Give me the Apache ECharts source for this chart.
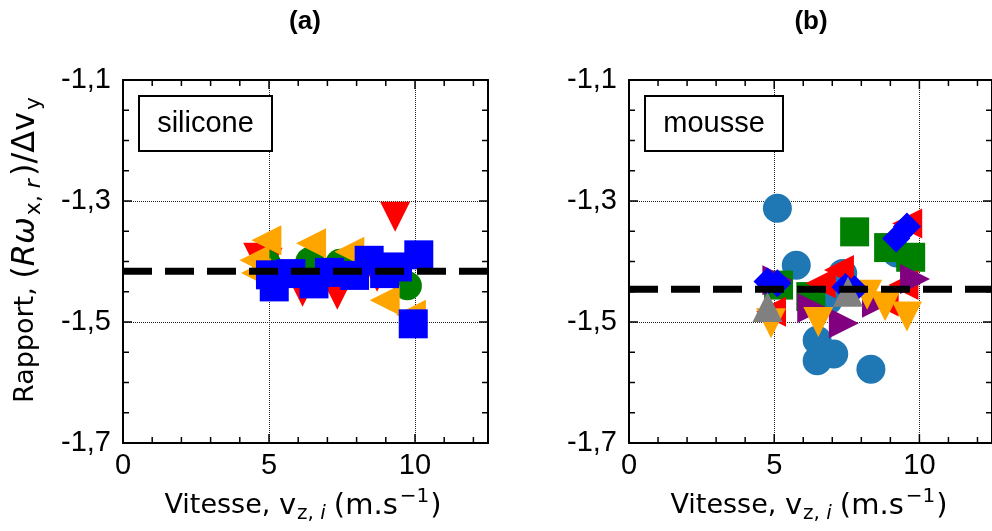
<!DOCTYPE html>
<html>
<head>
<meta charset="utf-8">
<script src="https://cdn.jsdelivr.net/npm/echarts@6/dist/echarts.min.js"></script>
<style>
  html, body { margin: 0; padding: 0; background: #fff; }
  #chart { width: 992px; height: 531px; }
</style>
</head>
<body>
<div id="chart"></div>
<script>
// axis ranges and tick labels
const xRange = [0, 12.5]
const yRange = [-1.7, -1.1]
const xTickStep = 5
const yTickStep = 0.2
const xTicks = [0, 1, 2, 3, 4, 5, 6, 7, 8, 9, 10, 11, 12]
const xMajor = [5, 10]
const yTicks = [-1.65, -1.6, -1.55, -1.5, -1.45, -1.4, -1.35, -1.3, -1.25, -1.2, -1.15]
const yMajor = [-1.5, -1.3]
const panelTitles = ['(a)', '(b)']
const panelNames = ['silicone', 'mousse']

// mean ratio (dashed line) per panel
const refA = -1.416
const refB = -1.446

// panel (a) silicone
const aRedX = [4.63, 4.95, 6.15, 7.34, 8.70, 9.32]
const aRedY = [-1.394, -1.402, -1.450, -1.455, -1.425, -1.326]
const aGreenX = [4.92, 6.40, 7.43, 9.74]
const aGreenY = [-1.404, -1.400, -1.403, -1.440]
const aOrangeX = [4.91, 6.44, 7.75, 4.50, 4.55, 8.96, 9.86]
const aOrangeY = [-1.365, -1.370, -1.384, -1.398, -1.419, -1.464, -1.488]
const aBlueX = [5.05, 5.18, 5.75, 6.54, 7.07, 7.93, 8.43, 8.96, 9.40, 10.13, 9.94]
const aBlueY = [-1.422, -1.442, -1.420, -1.437, -1.418, -1.423, -1.398, -1.420, -1.409, -1.389, -1.503]

// panel (b) mousse
const bCircleX = [5.11, 5.76, 7.36, 6.48, 7.05, 6.48, 8.33, 9.22, 6.85]
const bCircleY = [-1.312, -1.406, -1.420, -1.530, -1.553, -1.564, -1.578, -1.386, -1.465]
const bGreenX = [7.77, 8.94, 9.70, 5.15, 6.26]
const bGreenY = [-1.351, -1.377, -1.393, -1.439, -1.458]
const bRedX = [9.58, 7.23, 6.60, 9.45, 4.89, 8.77]
const bRedY = [-1.337, -1.414, -1.436, -1.439, -1.483, -1.466]
const bPurpleX = [9.85, 6.31, 7.40, 8.54, 5.11]
const bPurpleY = [-1.429, -1.477, -1.502, -1.468, -1.431]
const bOrangeX = [4.89, 6.52, 9.57, 8.82, 8.20]
const bOrangeY = [-1.502, -1.500, -1.491, -1.474, -1.455]
const bDiamondX = [4.77, 5.11, 7.45, 7.77, 9.20, 9.57]
const bDiamondY = [-1.433, -1.436, -1.442, -1.446, -1.362, -1.342]
const bGrayX = [4.77, 7.54]
const bGrayY = [-1.475, -1.450]

const FONT = '"Liberation Sans", Arial, sans-serif'
const MATH = '"DejaVu Sans", sans-serif'
const gridLeft = [123, 629]

function pts (xs, ys) {
  return xs.map((x, i) => [x, ys[i]])
}

function marks (g, xs, ys, symbol, rotate, size, color) {
  return {
    type: 'scatter',
    xAxisIndex: g * 2,
    yAxisIndex: g * 2,
    symbol: symbol,
    symbolRotate: rotate,
    symbolSize: size,
    itemStyle: { color: color, opacity: 1 },
    emphasis: { disabled: true },
    data: pts(xs, ys)
  }
}

function refLine (g, value) {
  return {
    type: 'line',
    xAxisIndex: g * 2,
    yAxisIndex: g * 2,
    symbol: 'none',
    z: 5,
    lineStyle: { color: '#000', width: 7, type: [29, 13] },
    data: [[xRange[0], value], [xRange[1], value]]
  }
}

// inward ticks on all four sides, placed with the axes' own scale
function tickLine (x1, y1, x2, y2) {
  return { type: 'line', shape: { x1: x1, y1: y1, x2: x2, y2: y2 }, style: { stroke: '#000', lineWidth: 1.5 } }
}
function xTickSeries (g) {
  return {
    type: 'custom',
    xAxisIndex: g * 2,
    yAxisIndex: g * 2,
    silent: true,
    z: 20,
    data: xTicks.map(v => [v, yRange[0]]),
    renderItem: (params, api) => {
      const v = api.value(0)
      const x = api.coord([v, yRange[0]])[0]
      const cs = params.coordSys
      const len = xMajor.includes(v) ? 9 : 6
      const bottom = cs.y + cs.height
      return {
        type: 'group',
        children: [tickLine(x, bottom, x, bottom - len), tickLine(x, cs.y, x, cs.y + len)]
      }
    }
  }
}
function yTickSeries (g) {
  return {
    type: 'custom',
    xAxisIndex: g * 2,
    yAxisIndex: g * 2,
    silent: true,
    z: 20,
    data: yTicks.map(v => [xRange[0], v]),
    renderItem: (params, api) => {
      const v = api.value(1)
      const y = api.coord([xRange[0], v])[1]
      const cs = params.coordSys
      const len = yMajor.includes(v) ? 9 : 6
      const right = cs.x + cs.width
      return {
        type: 'group',
        children: [tickLine(cs.x, y, cs.x + len, y), tickLine(right, y, right - len, y)]
      }
    }
  }
}

const border = { show: true, onZero: false, lineStyle: { color: '#000', width: 2 } }
const dotted = { show: true, lineStyle: { color: '#222', type: 'dotted', width: 1 } }
const xAxes = []
const yAxes = []
const grids = []
gridLeft.forEach((left, g) => {
  grids.push({ left: left, top: 80, width: 365, height: 363 })
  const base = { gridIndex: g, type: 'value', min: xRange[0], max: xRange[1], interval: xTickStep, axisTick: { show: false } }
  xAxes.push(Object.assign({}, base, {
    position: 'bottom',
    axisLine: border,
    axisLabel: {
      show: true, margin: 8, color: '#000', fontSize: 29, fontFamily: FONT,
      showMaxLabel: false,
      formatter: v => (v % xTickStep === 0 ? String(v) : '')
    },
    splitLine: dotted
  }))
  xAxes.push(Object.assign({}, base, {
    position: 'top',
    axisLine: border,
    axisLabel: { show: false },
    splitLine: { show: false }
  }))
  const ybase = { gridIndex: g, type: 'value', min: yRange[0], max: yRange[1], interval: yTickStep, axisTick: { show: false } }
  yAxes.push(Object.assign({}, ybase, {
    position: 'left',
    axisLine: border,
    axisLabel: {
      show: true, margin: 12, color: '#000', fontSize: 29, fontFamily: FONT,
      formatter: v => v.toFixed(1).replace('.', ',')
    },
    splitLine: dotted
  }))
  yAxes.push(Object.assign({}, ybase, {
    position: 'right',
    axisLine: border,
    axisLabel: { show: false },
    splitLine: { show: false }
  }))
})

function tok (size, family, italic, padding) {
  const s = { fontSize: size, fontFamily: family, color: '#000', fontStyle: italic ? 'italic' : 'normal' }
  s.font = (italic ? 'italic ' : '') + size + 'px ' + family
  if (padding) s.padding = padding
  return s
}
const richX = {
  n: tok(27, MATH, false),
  m: tok(29, MATH, false),
  s: tok(20, MATH, false, [16, 0, 0, 1]),
  si: tok(20, MATH, true, [16, 8, 0, 0]),
  sp: tok(20, MATH, false, [0, 1, 18, 2])
}
const richY = {
  n: tok(27, MATH, false),
  m: tok(32, MATH, false),
  mi: tok(32, MATH, true),
  s: tok(22, MATH, false, [17, 0, 0, 2]),
  si: tok(22, MATH, true, [17, 3, 0, 0])
}
const xName = '{n|Vitesse, }{m|v}{s|z, }{si|i}{m|(m.s}{sp|−1}{m|)}'
const yName = '{n|Rapport, }{m|(}{mi|Rω}{s|x, }{si|r}{m|)/Δv}{s|y}'

function textEl (x, y, text, font, rich, align) {
  return {
    type: 'text', x: x, y: y, z: 100,
    style: {
      text: text, font: font, rich: rich, fill: '#000',
      align: align || 'center', verticalAlign: 'middle',
      textAlign: align || 'center', textVerticalAlign: 'middle'
    }
  }
}

const graphics = []
gridLeft.forEach((left, g) => {
  graphics.push(textEl(left + 182, 22, panelTitles[g], 'bold 26px ' + FONT))
  const boxW = g === 0 ? 133 : 138
  graphics.push({
    type: 'rect', z: 90,
    shape: { x: left + 16, y: 96, width: boxW, height: 55 },
    style: { fill: '#fff', stroke: '#000', lineWidth: 2 }
  })
  graphics.push(textEl(left + 16 + boxW / 2, 124, panelNames[g], '29px ' + FONT))
  graphics.push(textEl(left + 180, 506, xName, '27px ' + MATH, richX))
})
const yTitle = textEl(26, 250, yName, '27px ' + MATH, richY)
yTitle.rotation = Math.PI / 2
graphics.push(yTitle)

const chart = echarts.init(document.getElementById('chart'), null, { renderer: 'canvas' })
chart.setOption({
  animation: false,
  backgroundColor: '#fff',
  grid: grids,
  xAxis: xAxes,
  yAxis: yAxes,
  series: [
    marks(0, aRedX, aRedY, 'triangle', 180, 30, '#ff0000'),
    marks(0, aGreenX, aGreenY, 'circle', 0, 29, '#008000'),
    marks(0, aOrangeX, aOrangeY, 'triangle', 90, 30, '#ffa500'),
    marks(0, aBlueX, aBlueY, 'rect', 0, 29, '#0000ff'),
    refLine(0, refA),
    marks(1, bCircleX, bCircleY, 'circle', 0, 29, '#1f77b4'),
    marks(1, bGreenX, bGreenY, 'rect', 0, 29, '#008000'),
    marks(1, bRedX, bRedY, 'triangle', 90, 30, '#ff0000'),
    marks(1, bPurpleX, bPurpleY, 'triangle', -90, 30, '#800080'),
    marks(1, bOrangeX, bOrangeY, 'triangle', 180, 30, '#ffa500'),
    marks(1, bDiamondX, bDiamondY, 'diamond', 0, 28, '#0000ff'),
    marks(1, bGrayX, bGrayY, 'triangle', 0, 30, '#808080'),
    refLine(1, refB),
    xTickSeries(0), yTickSeries(0), xTickSeries(1), yTickSeries(1)
  ],
  graphic: graphics
})
</script>
</body>
</html>
